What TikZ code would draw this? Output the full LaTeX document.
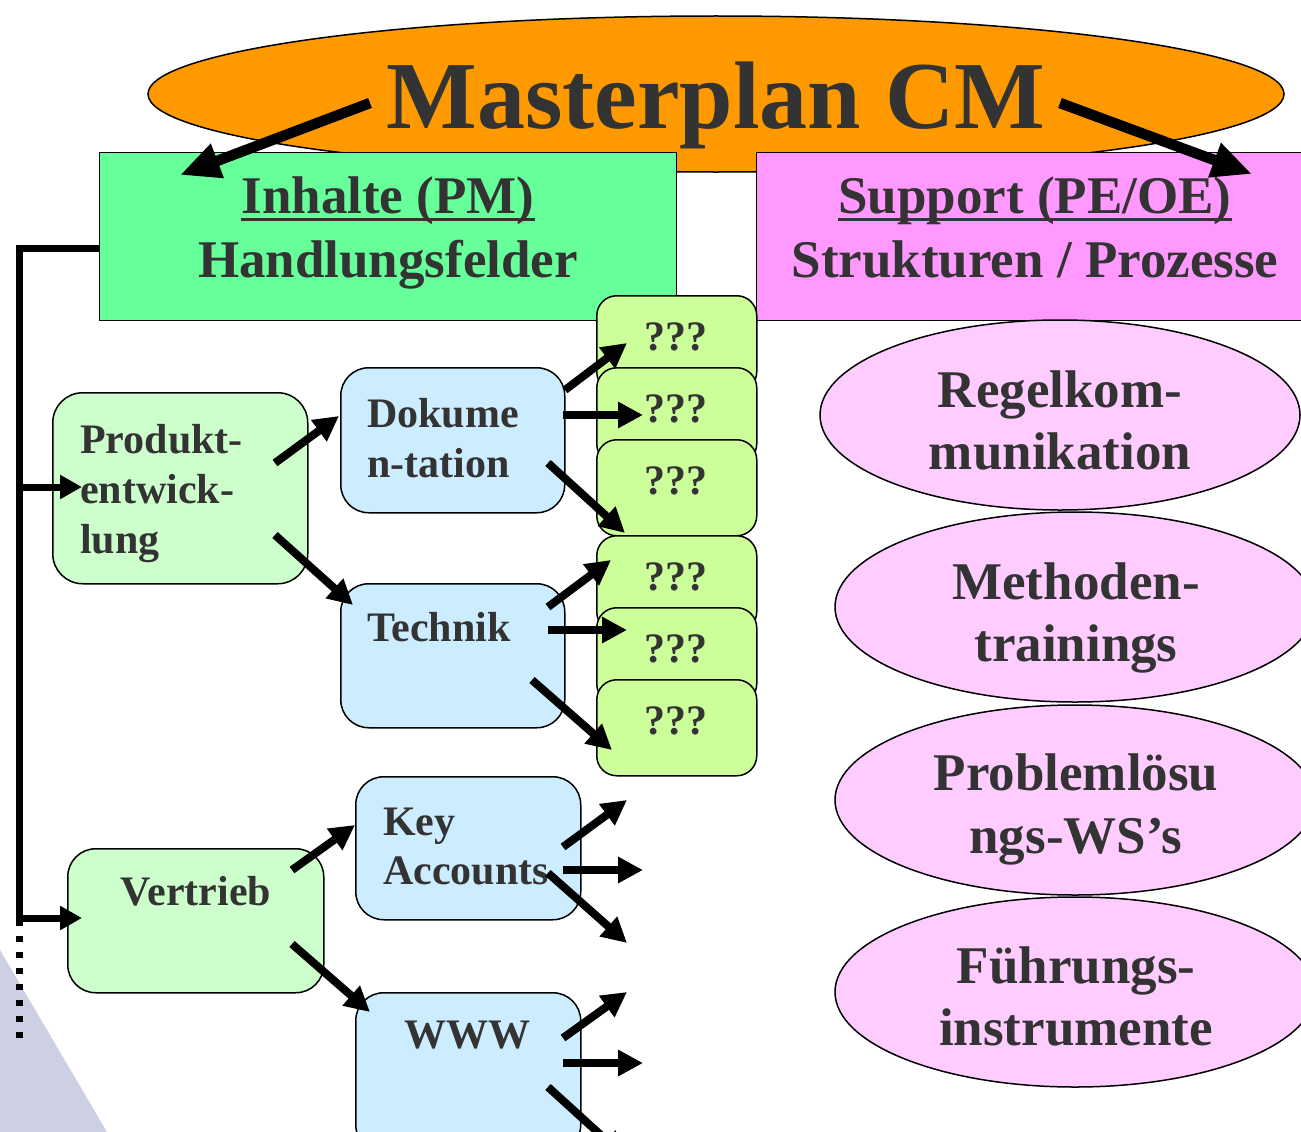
\documentclass[tikz,border=0pt]{standalone}
\usepackage{fontspec}
\setmainfont{Liberation Serif}
\usetikzlibrary{arrows.meta,shapes.geometric}
\definecolor{txtgray}{HTML}{333333}
\definecolor{orangefill}{HTML}{FF9900}
\definecolor{headgreen}{HTML}{66FF99}
\definecolor{headpink}{HTML}{FF99FF}
\definecolor{palegreen}{HTML}{CCFFCC}
\definecolor{paleblue}{HTML}{CCECFF}
\definecolor{limefill}{HTML}{CCFF99}
\definecolor{lilac}{HTML}{FFCCFF}
\definecolor{slate}{HTML}{CDD0E3}
\begin{document}
\begin{tikzpicture}[x=1pt,y=-1pt,
  rbox/.style={draw=black, line width=1.5pt, rounded corners=28pt, anchor=north west, inner sep=0pt},
  qbox/.style={draw=black, line width=1.5pt, rounded corners=20pt, fill=limefill, anchor=north west,
    minimum width=160pt, minimum height=96pt, inner sep=0pt},
  hbox/.style={draw=black, line width=1.2pt, anchor=north west, inner sep=0pt},
  oval/.style={ellipse, draw=black, line width=1.5pt, fill=lilac, minimum width=480pt, minimum height=190pt, inner sep=0pt},
  ttl/.style={anchor=base, inner sep=0pt, text=txtgray, font=\bfseries\fontsize{96}{110}\selectfont},
  big/.style={anchor=base, inner sep=0pt, text=txtgray, font=\bfseries\fontsize{53}{62}\selectfont},
  mid/.style={anchor=base west, inner sep=0pt, text=txtgray, font=\bfseries\fontsize{42}{50}\selectfont},
  midc/.style={anchor=base, inner sep=0pt, text=txtgray, font=\bfseries\fontsize{42}{50}\selectfont},
  arr/.style={line width=8pt, -{Triangle[length=25pt,width=25pt]}},
  bigarr/.style={line width=10.5pt, -{Triangle[length=40pt,width=34pt]}},
  brk/.style={line width=7pt},
  brkarr/.style={line width=7pt, -{Triangle[length=22pt,width=23pt]}},
  uline/.style={line width=3pt, draw=txtgray}]
\clip (0,0) rectangle (1301,1132);
\fill[white] (0,0) rectangle (1301,1132);

% backdrop wedge, lower left
\fill[slate] (0,950) -- (107,1132) -- (0,1132) -- cycle;

% title oval
\node[ellipse, draw=black, line width=1.5pt, fill=orangefill, minimum width=1136pt, minimum height=156pt, inner sep=0pt] (master) at (716,94) {};
\node[ttl] (mtitle) at (716,128) {Masterplan CM};

% header boxes
\node[hbox, fill=headgreen, minimum width=577pt, minimum height=168pt] (inhalte) at (99,152) {};
\node[hbox, fill=headpink, minimum width=560pt, minimum height=168pt] (support) at (756,152) {};
\node[big] (inh1) at (388,213) {Inhalte (PM)};
\draw[uline] ([yshift=-6pt]inh1.base west) -- ([yshift=-6pt]inh1.base east);
\node[big] (inh2) at (388,277) {Handlungsfelder};
\node[big] (sup1) at (1035,213) {Support (PE/OE)};
\draw[uline] ([yshift=-6pt]sup1.base west) -- ([yshift=-6pt]sup1.base east);
\node[big] (sup2) at (1035,277) {Strukturen / Prozesse};

% arrows out of the title
\draw[bigarr] (370,103) -- (180,175);
\draw[bigarr] (1060,103) -- (1252,174);

% left branch boxes
\node[rbox, fill=palegreen, minimum width=255pt, minimum height=191pt, rounded corners=30pt] (produkt) at (52,392) {};
\node[rbox, fill=paleblue, minimum width=224pt, minimum height=145pt] (doku) at (340,367) {};
\node[rbox, fill=paleblue, minimum width=224pt, minimum height=144pt] (technik) at (340,583) {};
\node[rbox, fill=palegreen, minimum width=256pt, minimum height=144pt] (vertrieb) at (67,848) {};
\node[rbox, fill=paleblue, minimum width=225pt, minimum height=143pt] (keyacc) at (355,776) {};
\node[rbox, fill=paleblue, minimum width=225pt, minimum height=160pt] (www) at (355,992) {};

\node[mid] (p1) at (80,453) {Produkt-};
\node[mid] (p2) at (80,503) {entwick-};
\node[mid] (p3) at (80,553) {lung};
\node[mid] (d1) at (367,427) {Dokume};
\node[mid] (d2) at (367,477) {n-tation};
\node[mid] (t1) at (367,641) {Technik};
\node[midc] (v1) at (196,905) {Vertrieb};
\node[mid] (k1) at (383,835) {Key};
\node[mid] (k2) at (383,884) {Accounts};
\node[midc] (w1) at (467,1048) {WWW};

% stacked question cards
\foreach \n/\y in {q1/295,q2/367,q3/439,q4/535,q5/607,q6/679}{
  \node[qbox] (\n) at (596,\y) {};
  \node[midc] (\n t) at (676,\y+55) {???};
}

% support ovals
\node[oval] (regel) at (1060,415) {};
\node[big] (r1) at (1060,407) {Regelkom-};
\node[big] (r2) at (1060,469) {munikation};
\node[oval] (methoden) at (1075,607) {};
\node[big] (m1) at (1076,599) {Methoden-};
\node[big] (m2) at (1076,661) {trainings};
\node[oval] (problem) at (1075,800) {};
\node[big] (pr1) at (1076,790) {Problemlösu};
\node[big] (pr2) at (1076,853) {ngs-WS’s};
\node[oval] (fuehrung) at (1075,992) {};
\node[big] (f1) at (1076,983) {Führungs-};
\node[big] (f2) at (1076,1045) {instrumente};

% left bracket feeding the branches
\coordinate (bt) at (19.5,248);
\coordinate (bb) at (19.5,921);
\draw[brk] (inhalte.west |- bt) -- (bt) -- (bb);
\draw[line width=7pt, dash pattern=on 6pt off 10pt] (19.5,920) -- (19.5,1040);
\draw[brkarr] (16,487) -- (82,487);
\draw[brkarr] (16,918) -- (82,918);

% branch arrows
\draw[arr] (275,463) -- (339,416);
\draw[arr] (275,535) -- (353,605);
\draw[arr] (565,390) -- (627,343);
\draw[arr] (563,415) -- (643,415);
\draw[arr] (548,463) -- (625,533);
\draw[arr] (548,607) -- (611,560);
\draw[arr] (548,630) -- (627,630);
\draw[arr] (532,680) -- (612,750);
\draw[arr] (292,870) -- (355,825);
\draw[arr] (292,944) -- (370,1012);
\draw[arr] (563,847) -- (627,800);
\draw[arr] (563,870) -- (643,870);
\draw[arr] (548,873) -- (627,943);
\draw[arr] (563,1038) -- (627,992);
\draw[arr] (563,1063) -- (643,1063);
\draw[arr] (548,1087) -- (625,1157);
\end{tikzpicture}
\end{document}
